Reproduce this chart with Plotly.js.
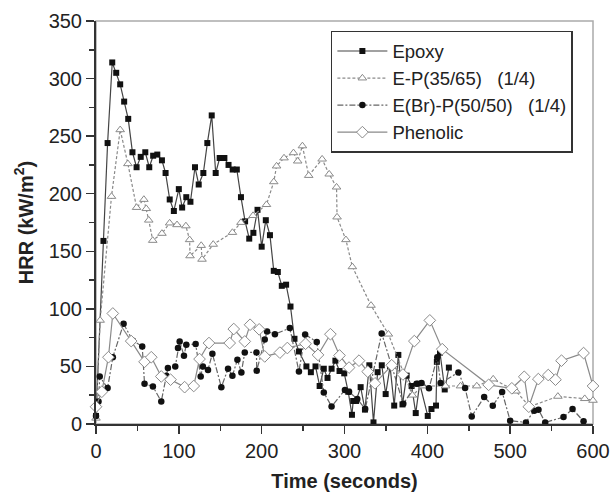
<!DOCTYPE html>
<html>
<head>
<meta charset="utf-8">
<script src="https://cdn.plot.ly/plotly-3.0.1.min.js"></script>
<style>html,body{margin:0;padding:0;background:#fff;}#chart{width:613px;height:492px;}</style>
</head>
<body>
<div id="chart"></div>
<script>
// ---- Data (time in seconds, HRR in kW/m2) ----
const seriesNames = ["Epoxy", "E-P(35/65)\u00a0\u00a0\u00a0(1/4)", "E(Br)-P(50/50)\u00a0\u00a0\u00a0(1/4)", "Phenolic"];

const epoxyTime = [0, 9, 14, 19.6, 24.4, 29.2, 34, 38.9, 44, 49, 54, 59.5, 64.3, 69, 74, 79.6, 84, 89, 94, 100, 104, 109, 114, 119.5, 124, 129.6, 134.4, 139.7, 144.5, 149.3, 155, 160, 165, 170, 175, 180, 185, 190, 195, 200, 205, 210, 214.6, 219.5, 224.3, 229.5, 234.8, 239.6, 245, 254, 259.4, 265, 270, 275, 279.5, 284.4, 289, 294, 299.7, 304.5, 309, 310.5, 314, 319.5, 324.7, 330, 335, 340, 345, 349.7, 355, 360, 365, 370, 375, 381, 386, 390.8, 400.5, 405, 410.5, 411.5, 415.3, 421, 426];
const epoxyHRR = [7, 159, 244, 314, 305, 295, 280, 265, 236, 223, 232, 236, 223, 233, 234, 229, 218, 195, 185, 204, 188, 197, 193, 223, 208, 218, 244, 268, 218, 231, 231, 225, 221, 221, 197, 176, 161, 166, 186, 154, 177, 164, 133, 132, 120, 121, 102, 74, 63, 50, 45, 50, 33, 48, 40, 48, 55, 46, 44, 28, 8, 20, 20, 32, 12.5, 51, 1.4, 45, 51, 26, 50, 16, 60, 17, 42, 33, 9.5, 35, 7, 13, 16, 54, 62, 30, 49];

const epTime = [0, 5, 18.7, 29.2, 38.5, 49, 57.8, 60.7, 63.7, 68.5, 79.6, 88.9, 97.8, 108.5, 113, 113.5, 127, 128, 141.5, 164.7, 175, 189.6, 205.8, 214.6, 218, 227, 238.4, 243.5, 249.2, 256.8, 273, 281.5, 290.4, 291, 301.7, 309.5, 332, 353, 382, 395, 422, 440, 459.7, 479.5, 507, 523.3, 557.6, 590, 600];
const epHRR = [5, 90, 197.6, 255.5, 226, 188, 195, 187, 177, 159.4, 165.5, 174.5, 173, 172, 160, 146, 155, 143, 156, 166.3, 175, 181, 190.5, 210.3, 224, 231, 235.5, 228.3, 241.5, 215.8, 230, 217, 205.7, 179.7, 160, 136.5, 103, 78, 25, 33, 33, 33, 33, 39, 28.5, 15, 24, 22, 20.5];

const ebrTime = [0, 3, 4.5, 14, 20.3, 33.3, 44.5, 55.8, 58.6, 68.7, 78.8, 84.9, 86.8, 95.7, 99, 101, 106.2, 109, 120.3, 126.4, 129, 135.2, 140.5, 151.3, 159.4, 164.7, 170.7, 175.5, 179.6, 193.7, 194, 203.7, 206.5, 216, 234, 245, 252.5, 266.5, 275, 284.4, 300.5, 305.5, 315.4, 325, 344.9, 371, 387, 393, 402, 412, 416, 437.5, 445.6, 453.6, 468.6, 479, 490.3, 500, 519, 529, 534.2, 542.3, 564.4, 575.3, 588.6];
const ebrHRR = [7, 19.6, 41.3, 31.2, 58, 87, 72.3, 67.4, 35, 32.6, 19.6, 42, 48.6, 50, 66, 71.7, 59.3, 68.8, 69.4, 41.3, 50, 47, 61, 32, 48, 42, 55.8, 44.8, 62.2, 62.2, 46.3, 73.3, 80.4, 78, 83.3, 45.5, 77.8, 71.2, 27.4, 15.3, 29.5, 28, 21.7, 13, 78.7, 17.5, 35, 35.6, 31, 58, 35.6, 44.8, 31.2, 6.6, 23.4, 15.9, 27.8, 2.9, 1.4, 11.5, 12.4, 1.4, 6, 13, 2.3];

const phenTime = [0, 7, 15, 20.3, 42.5, 58.6, 66.7, 78.8, 90, 107, 118, 125, 136.4, 161.4, 166.3, 179.6, 186, 197, 203.7, 222, 231, 253, 268, 283, 294, 305.5, 317.5, 328, 336.8, 357, 370.5, 384.3, 403, 418, 474, 502, 517, 522.5, 534, 546, 554.7, 562, 588.6, 600];
const phenHRR = [15, 28, 58, 96, 72, 54, 58, 41.3, 38.5, 32, 33, 56.4, 70.3, 70.3, 82.5, 71.7, 86.2, 82.2, 58.7, 62, 66, 69.7, 60, 78, 59.5, 49, 55, 45.5, 35.3, 51, 43, 72, 90, 65, 34, 31, 41, 15, 39, 42.5, 38.5, 55, 61.6, 33];

const xTickVals = [0, 100, 200, 300, 400, 500, 600];
const yTickVals = [0, 50, 100, 150, 200, 250, 300, 350];

// ---- Traces ----
const FONT = "Arial, 'Liberation Sans', Helvetica, sans-serif";
const traces = [
  {
    x: epoxyTime, y: epoxyHRR, name: seriesNames[0], mode: "lines+markers", cliponaxis: false,
    line: {color: "#444", width: 1.2},
    marker: {symbol: "square", size: 6, color: "#111", line: {width: 0}}
  },
  {
    x: epTime, y: epHRR, name: seriesNames[1], mode: "lines+markers", cliponaxis: false,
    line: {color: "#8a8a8a", width: 1.2, dash: "3px,2px"},
    marker: {symbol: "triangle-up", size: 7.5, color: "#fff", line: {color: "#8a8a8a", width: 1}}
  },
  {
    x: ebrTime, y: ebrHRR, name: seriesNames[2], mode: "lines+markers", cliponaxis: false,
    line: {color: "#666", width: 1.2, dash: "6px,2px,2px,2px"},
    marker: {symbol: "circle", size: 6.5, color: "#111", line: {width: 0}}
  },
  {
    x: phenTime, y: phenHRR, name: seriesNames[3], mode: "lines+markers", cliponaxis: false,
    line: {color: "#8a8a8a", width: 1.2},
    marker: {symbol: "diamond", size: 9, color: "#fff", line: {color: "#8a8a8a", width: 1}}
  }
];

const axisCommon = {
  showgrid: false, zeroline: false, showline: true, linecolor: "#333", linewidth: 2,
  ticks: "outside", ticklen: 8, tickwidth: 1.5, tickcolor: "#333",
  tickfont: {family: FONT, size: 20, color: "#222"}
};

const layout = {
  width: 613, height: 492,
  margin: {l: 96, r: 20, t: 21, b: 68},
  paper_bgcolor: "#fff", plot_bgcolor: "#fff",
  font: {family: FONT, color: "#222"},
  showlegend: true,
  legend: {
    x: 0.4726, y: 0.9752, xanchor: "left", yanchor: "top",
    bgcolor: "#fff", bordercolor: "#333", borderwidth: 1.5,
    font: {family: FONT, size: 18.5, color: "#222"},
    itemwidth: 50, tracegroupgap: 0
  },
  xaxis: Object.assign({}, axisCommon, {
    range: [0, 600], tickmode: "array", tickvals: xTickVals,
    minor: {tickmode: "linear", tick0: 0, dtick: 50, ticks: "outside", ticklen: 5, tickwidth: 1.5, tickcolor: "#333"},
    title: {text: "<b>Time (seconds)</b>", font: {family: FONT, size: 20, color: "#222"}, standoff: 15}
  }),
  yaxis: Object.assign({}, axisCommon, {
    range: [0, 350], tickmode: "array", tickvals: yTickVals,
    minor: {tickmode: "linear", tick0: 0, dtick: 25, ticks: "outside", ticklen: 5, tickwidth: 1.5, tickcolor: "#333"},
    title: {text: "<b>HRR (kW/m<sup>2</sup>)</b>", font: {family: FONT, size: 20, color: "#222"}, standoff: 10}
  }),
  shapes: [
    {type: "rect", xref: "paper", yref: "paper", x0: 0, x1: 1, y0: 0, y1: 1,
     line: {color: "#aaa", width: 1.5}, fillcolor: "rgba(0,0,0,0)", layer: "below"}
  ]
};

Plotly.newPlot("chart", traces, layout, {displayModeBar: false, staticPlot: true});
</script>
</body>
</html>
